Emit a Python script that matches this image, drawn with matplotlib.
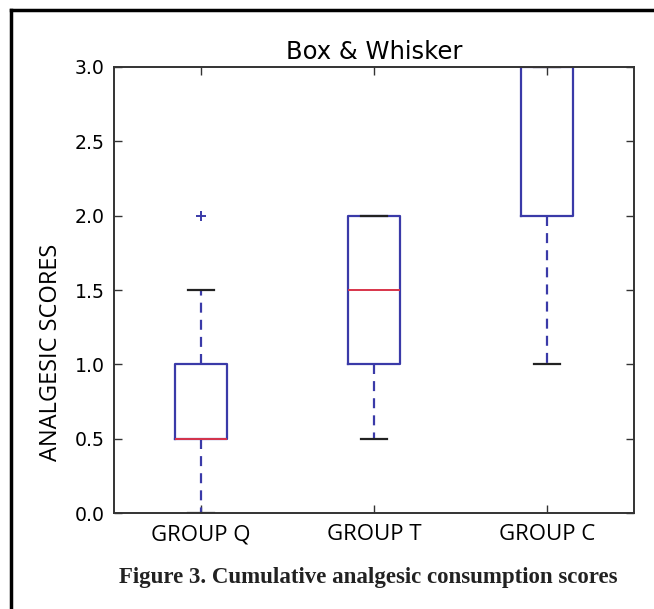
import matplotlib
matplotlib.use("Agg")
import matplotlib.pyplot as plt
from matplotlib.lines import Line2D

# box statistics
groups = ["GROUP Q", "GROUP T", "GROUP C"]
whis_lo = [0.0, 0.5, 1.0]
q1 = [0.5, 1.0, 2.0]
median = [0.5, 1.5, 3.0]
q3 = [1.0, 2.0, 3.0]
whis_hi = [1.5, 2.0, 3.0]
outliers = [[2.0], [], []]
y_ticks = [0.0, 0.5, 1.0, 1.5, 2.0, 2.5, 3.0]

stats = []
for i, g in enumerate(groups):
    stats.append(dict(label=g, whislo=whis_lo[i], q1=q1[i], med=median[i],
                      q3=q3[i], whishi=whis_hi[i], fliers=outliers[i]))

fig = plt.figure(figsize=(6.54, 6.09), dpi=100)
ax = fig.add_axes([0.1743, 0.1576, 0.7951, 0.7324])

ax.bxp(stats, positions=[1, 2, 3], widths=0.3, showfliers=True,
       boxprops=dict(color="#3a3aa8", linewidth=1.6),
       medianprops=dict(color="#d8344a", linewidth=1.4),
       whiskerprops=dict(color="#3a3aa8", linewidth=1.6, linestyle=(0, (4.5, 3.2))),
       capprops=dict(color="#222222", linewidth=1.6),
       flierprops=dict(marker="+", markeredgecolor="#3a3aa8", markersize=7,
                       markeredgewidth=1.4, linestyle="none"))

ax.set_xlim(0.5, 3.5)
ax.set_ylim(0, 3.0)
ax.set_yticks(y_ticks)
ax.set_yticklabels(["%.1f" % v for v in y_ticks], fontsize=13.6)
ax.set_xticks([1, 2, 3])
ax.set_xticklabels(groups, fontsize=16, family="Open Sans")
ax.tick_params(direction="in", top=True, right=True, length=6, width=1.0,
               color="#333333")
ax.tick_params(axis="y", pad=6.5)
ax.tick_params(axis="x", pad=8)
for s in ax.spines.values():
    s.set_linewidth(1.4)
    s.set_color("#333333")

ax.set_title("Box & Whisker", fontsize=17.5, pad=6)
ax.set_ylabel("ANALGESIC SCORES", fontsize=17, family="Open Sans")
ax.yaxis.set_label_coords(-0.098, 0.361)

fig.text(0.563, 0.051, "Figure 3. Cumulative analgesic consumption scores",
         ha="center", va="center", fontsize=16.5, fontweight="bold",
         family="Liberation Serif", color="#222222")

# page frame (left and top edges only)
fig.add_artist(Line2D([0.017, 0.017], [0.0, 0.983], color="black", lw=2.5,
                      transform=fig.transFigure))
fig.add_artist(Line2D([0.017, 1.0], [0.983, 0.983], color="black", lw=2.5,
                      transform=fig.transFigure))

fig.savefig("out.png", dpi=100)
